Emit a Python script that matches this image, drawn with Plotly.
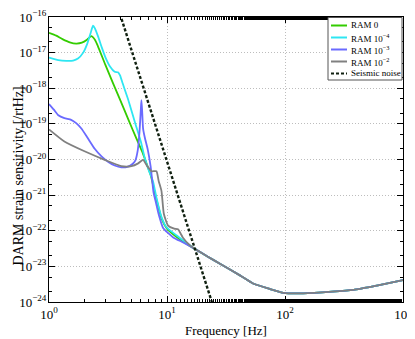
import plotly.graph_objects as go

# shared high-frequency tail (all RAM curves coincide here)
tail_f = [17.2, 22.0, 28.1, 41.5, 53.6, 75.0, 97.0, 143.0, 250.0, 381.0, 600.0, 1000.0]
tail_h = [3.1e-23, 1.9e-23, 1.19e-23, 5.6e-24, 3.3e-24, 2.3e-24, 1.8e-24, 1.75e-24,
          1.95e-24, 2.2e-24, 2.9e-24, 4.1e-24]

green_f = [1.0, 1.15, 1.3, 1.5, 1.7, 1.9, 2.1, 2.28, 2.45, 2.6, 3.0, 3.5, 4.0, 4.67, 5.5,
           6.1, 6.6, 7.3, 8.1, 9.0, 10.0, 12.0, 14.5]
green_h = [3.6e-17, 3.0e-17, 2.4e-17, 1.95e-17, 1.8e-17, 1.9e-17, 2.3e-17, 2.9e-17,
           2.3e-17, 1.5e-17, 4.6e-18, 1.35e-18, 4.8e-19, 1.4e-19, 3.9e-20, 1.8e-20,
           9.0e-21, 3.5e-21, 8.0e-22, 2.2e-22, 1.15e-22, 6.8e-23, 4.4e-23]

cyan_f = [1.0, 1.2, 1.4, 1.6, 1.76, 1.95, 2.1, 2.25, 2.36, 2.45, 2.6, 2.8, 3.0, 3.3, 3.6,
          3.84, 4.0, 4.2, 4.67, 5.33, 6.0, 6.48, 7.0, 7.6, 8.14, 9.0, 9.9, 12.0, 14.5]
cyan_h = [7.3e-18, 6.2e-18, 5.9e-18, 6.0e-18, 6.8e-18, 1.0e-17, 1.7e-17, 3.5e-17, 5.7e-17,
          4.8e-17, 2.9e-17, 1.4e-17, 7.5e-18, 4.0e-18, 2.9e-18, 2.8e-18, 2.3e-18, 1.4e-18,
          5.0e-19, 1.15e-19, 3.2e-20, 1.1e-20, 5.0e-21, 2.5e-21, 8.5e-22, 2.4e-22,
          1.25e-22, 7.5e-23, 4.7e-23]

blue_f = [1.0, 1.1, 1.2, 1.35, 1.54, 1.7, 1.88, 2.1, 2.44, 2.8, 3.16, 3.6, 4.1, 4.67, 5.1,
          5.4, 5.65, 5.85, 6.0, 6.07, 6.15, 6.27, 6.5, 6.87, 7.26, 7.7, 8.0, 8.5, 9.27,
          11.3, 13.7]
blue_h = [3.6e-19, 2.5e-19, 1.75e-19, 1.45e-19, 1.3e-19, 1.05e-19, 7.4e-20, 4.3e-20,
          2.0e-20, 1.2e-20, 8.7e-21, 6.8e-21, 6.0e-21, 6.3e-21, 7.5e-21, 9.5e-21, 1.8e-20,
          6.0e-20, 2.5e-19, 4.6e-19, 2.5e-19, 7.4e-20, 4.0e-20, 1.9e-20, 6.5e-21,
          1.15e-21, 6.8e-22, 2.9e-22, 1.2e-22, 6.5e-23, 4.7e-23]

gray_f = [1.0, 1.35, 2.0, 2.96, 4.1, 5.0, 5.7, 6.27, 6.8, 7.38, 8.14, 8.5, 8.98, 9.4,
          10.2, 11.5, 12.4, 13.0, 13.6, 15.5]
gray_h = [7.0e-20, 3.2e-20, 1.7e-20, 9.8e-21, 6.5e-21, 6.5e-21, 7.8e-21, 9.8e-21,
          6.5e-21, 4.7e-21, 4.7e-21, 2.5e-21, 1.3e-21, 3.0e-22, 1.4e-22, 1.15e-22,
          1.1e-22, 8.5e-23, 6.5e-23, 4.0e-23]

seismic_f = [4.0, 8.0, 16.0, 25.0]
seismic_h = [1.2e-16, 8.9e-20, 6.6e-23, 6.5e-25]

x_ticks = [1, 10, 100, 1000]
y_ticks = [1e-24, 1e-23, 1e-22, 1e-21, 1e-20, 1e-19, 1e-18, 1e-17, 1e-16]

series = [
    ("RAM 0", green_f, green_h, "#33cc00"),
    ("RAM 10<sup>−4</sup>", cyan_f, cyan_h, "#2ee6f2"),
    ("RAM 10<sup>−3</sup>", blue_f, blue_h, "#6a6aff"),
    ("RAM 10<sup>−2</sup>", gray_f, gray_h, "#808080"),
]
SEISMIC_COLOR = "#102010"
SEISMIC_DASH = "3px,2px"

FONT = "Liberation Serif, Times New Roman, serif"
# the page body has an 8px margin, so the figure is 8px smaller than the window
PAGE_OFF = 8
W, H = 415 - PAGE_OFF, 339 - PAGE_OFF
L, R, T, B = 49 - PAGE_OFF, 12, 17 - PAGE_OFF, 37


def px(x):
    """page pixel x -> paper coordinate"""
    return (x - PAGE_OFF - L) / (W - L - R)


def py(y):
    """page pixel y -> paper coordinate"""
    return (H - B - (y - PAGE_OFF)) / (H - T - B)


fig = go.Figure()
for name, f, h, color in series:
    fig.add_trace(go.Scatter(
        x=f + tail_f, y=h + tail_h, name=name, mode="lines", showlegend=False,
        line=dict(color=color, width=1.8, shape="spline", smoothing=0.5),
    ))
fig.add_trace(go.Scatter(
    x=seismic_f, y=seismic_h, name="Seismic noise", mode="lines", showlegend=False,
    line=dict(color=SEISMIC_COLOR, width=2.4, dash=SEISMIC_DASH),
))

axis_common = dict(
    type="log", showline=True, linecolor="black", automargin=False,
    linewidth=1, mirror="allticks", ticks="inside", ticklen=6, tickcolor="black",
    showgrid=True, gridcolor="#bdbdbd", griddash="1px,2px", gridwidth=1,
    minor=dict(ticks="inside", ticklen=3, tickcolor="black", showgrid=False),
    tickfont=dict(family=FONT, size=13, color="black"), zeroline=False,
    ticklabeloverflow="allow",
)

fig.update_xaxes(axis_common, range=[0, 3], tickvals=x_ticks,
                 ticktext=[f"10<sup>{i}</sup>" for i in range(4)])
fig.update_yaxes(axis_common, range=[-24, -16], tickvals=y_ticks, ticklabelstandoff=-1,
                 ticktext=[f"10<sup>−{i}</sup>" for i in range(24, 15, -1)])

# axis titles
fig.add_annotation(text="Frequency [Hz]", xref="paper", yref="paper",
                   x=0.5, y=py(330), xanchor="center", yanchor="middle", showarrow=False,
                   font=dict(family=FONT, size=13, color="black"))
fig.add_annotation(text="DARM strain sensitivity [/rtHz]", textangle=-90,
                   xref="paper", yref="paper", x=px(17.5), y=py(176),
                   xanchor="center", yanchor="middle", showarrow=False,
                   font=dict(family=FONT, size=14, color="black"))

# compact legend box (top right)
fig.add_shape(type="rect", xref="paper", yref="paper",
              x0=px(328), x1=px(402), y0=py(80), y1=py(17.5),
              line=dict(color="#555555", width=1), fillcolor="white", layer="above")
legend_items = [(n, c, "solid") for n, _, _, c in series] + [("Seismic noise", SEISMIC_COLOR, SEISMIC_DASH)]
for i, (name, color, dash) in enumerate(legend_items):
    yy = py(25.5 + 12 * i)
    fig.add_shape(type="line", xref="paper", yref="paper", x0=px(331), x1=px(347),
                  y0=yy, y1=yy, line=dict(color=color, width=2, dash=dash), layer="above")
    fig.add_annotation(text=name, xref="paper", yref="paper", x=px(348.5), y=yy,
                       xanchor="left", yanchor="middle", showarrow=False,
                       font=dict(family=FONT, size=9, color="black"))

fig.update_layout(
    width=W, height=H, margin=dict(l=L, r=R, t=T, b=B),
    paper_bgcolor="white", plot_bgcolor="white",
    font=dict(family=FONT, color="black"), showlegend=False,
)

fig.write_html("out.html")
